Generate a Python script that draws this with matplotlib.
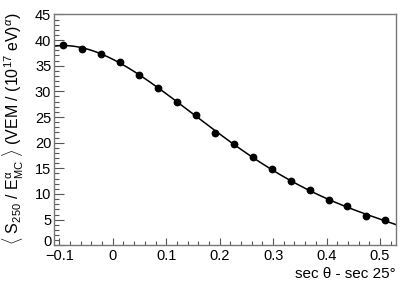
import numpy as np
import matplotlib
matplotlib.use("Agg")
import matplotlib.pyplot as plt
import matplotlib.transforms as mtransforms
from matplotlib.ticker import MultipleLocator

plt.rcParams['font.family'] = ['Liberation Sans', 'DejaVu Sans']
plt.rcParams['mathtext.fontset'] = 'custom'
plt.rcParams['mathtext.rm'] = 'Liberation Sans'
plt.rcParams['mathtext.it'] = 'Liberation Sans:italic'
plt.rcParams['mathtext.sf'] = 'Liberation Sans'

# data
x_vals = [-0.0925, -0.0571, -0.0216, 0.0138, 0.0493, 0.0847, 0.1202, 0.1556,
          0.1911, 0.2265, 0.2620, 0.2974, 0.3329, 0.3683, 0.4038, 0.4392,
          0.4747, 0.5101]
y_vals = [39.0, 38.3, 37.3, 35.7, 33.2, 30.7, 28.0, 25.3, 21.9, 19.7, 17.3,
          14.9, 12.5, 10.8, 8.8, 7.6, 5.7, 4.9]
x_ticks = [-0.1, 0.0, 0.1, 0.2, 0.3, 0.4, 0.5]
x_tick_labels = ['\u22120.1', '0', '0.1', '0.2', '0.3', '0.4', '0.5']
y_ticks = [0, 5, 10, 15, 20, 25, 30, 35, 40, 45]

fig = plt.figure(figsize=(4.13, 2.92), dpi=100)
ax = fig.add_axes([54/413, 1-245.3/292, (396-54)/413, (245.3-14.4)/292])

# fitted polynomial curve (as in the original fit)
coef = np.polyfit(x_vals, y_vals, 4)
xf = np.linspace(-0.11, 0.53, 300)
ax.plot(xf, np.polyval(coef, xf), color='black', lw=1.1)
ax.plot(x_vals, y_vals, 'o', color='black', ms=4.6)

ax.set_xlim(-0.11, 0.53)
ax.set_ylim(0, 45)
ax.set_xticks(x_ticks)
ax.set_xticklabels(x_tick_labels)
ax.set_yticks(y_ticks)
ax.xaxis.set_minor_locator(MultipleLocator(0.02))
ax.yaxis.set_minor_locator(MultipleLocator(1))
ax.tick_params(axis='x', which='major', direction='in', length=5.2, width=0.8,
               labelsize=10.5, pad=2.5, top=False, color='#555555')
ax.tick_params(axis='x', which='minor', direction='in', length=2.6, width=0.8,
               top=False, color='#555555')
ax.tick_params(axis='y', which='major', direction='in', length=7, width=0.8,
               labelsize=10.5, pad=2, right=False, color='#555555')
ax.tick_params(axis='y', which='minor', direction='in', length=3.6, width=0.8,
               right=False, color='#555555')
for s in ax.spines.values():
    s.set_color('#777777')
    s.set_linewidth(1.0)
# lift the bottom y label a little, as in the reference
lbl0 = ax.get_yticklabels()[0]
lbl0.set_transform(lbl0.get_transform() +
                   mtransforms.ScaledTranslation(0, 5/100, fig.dpi_scale_trans))

fig.text(396/413, 1-274/292, 'sec \u03b8 - sec 25\u00b0', ha='right', va='center',
         fontsize=11)
fig.text(13/413, 1-129/292,
         r'$\langle\ \mathrm{S_{250}\ /\ E_{MC}^{\alpha}}\ \rangle$ (VEM / (10$^{17}$ eV)$^{\alpha}$)',
         rotation=90, ha='center', va='center', fontsize=11.5)

fig.savefig('out.png', dpi=100)
